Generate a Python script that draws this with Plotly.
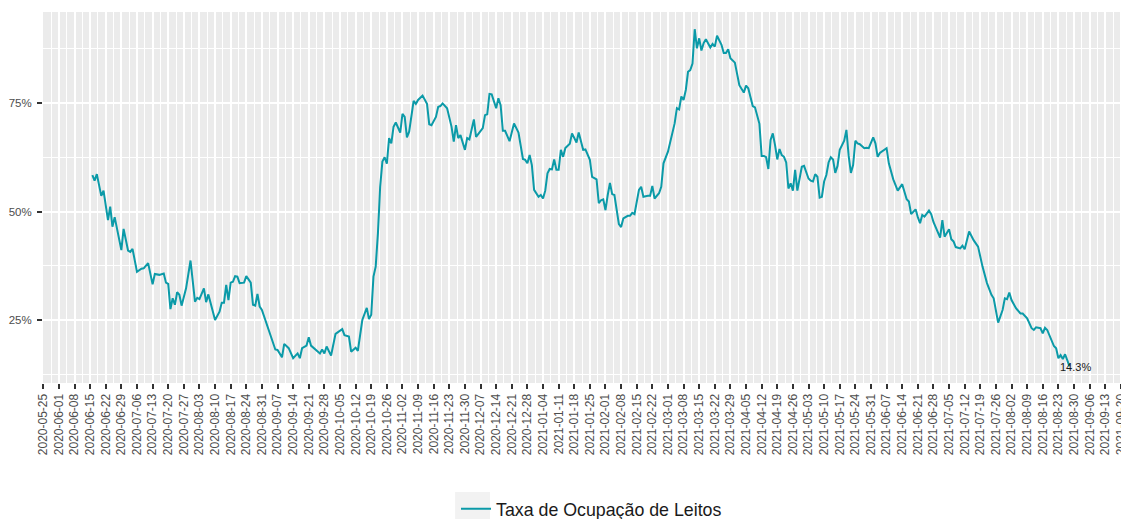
import pandas as pd
import plotly.graph_objects as go

# ---------------- data ----------------
dates = [
    "2020-06-16", "2020-06-17", "2020-06-18", "2020-06-20", "2020-06-21", "2020-06-23", "2020-06-24",
    "2020-06-25", "2020-06-26", "2020-06-29", "2020-06-30", "2020-07-02", "2020-07-03", "2020-07-04",
    "2020-07-06", "2020-07-08", "2020-07-09", "2020-07-11", "2020-07-13", "2020-07-14", "2020-07-16",
    "2020-07-18", "2020-07-19", "2020-07-20", "2020-07-21", "2020-07-22", "2020-07-23", "2020-07-24",
    "2020-07-25", "2020-07-26", "2020-07-28", "2020-07-30", "2020-08-01", "2020-08-02", "2020-08-03",
    "2020-08-05", "2020-08-06", "2020-08-07", "2020-08-10", "2020-08-12", "2020-08-13", "2020-08-14",
    "2020-08-15", "2020-08-16", "2020-08-17", "2020-08-18", "2020-08-19", "2020-08-20", "2020-08-21",
    "2020-08-23", "2020-08-24", "2020-08-26", "2020-08-27", "2020-08-28", "2020-08-29", "2020-08-30",
    "2020-08-31", "2020-09-02", "2020-09-06", "2020-09-07", "2020-09-09", "2020-09-10", "2020-09-12",
    "2020-09-14", "2020-09-16", "2020-09-17", "2020-09-18", "2020-09-20", "2020-09-21", "2020-09-22",
    "2020-09-24", "2020-09-26", "2020-09-27", "2020-09-28", "2020-09-29", "2020-10-01", "2020-10-03",
    "2020-10-04", "2020-10-06", "2020-10-07", "2020-10-09", "2020-10-10", "2020-10-12", "2020-10-13",
    "2020-10-15", "2020-10-17", "2020-10-18", "2020-10-19", "2020-10-20", "2020-10-21", "2020-10-22",
    "2020-10-23", "2020-10-24", "2020-10-25", "2020-10-26", "2020-10-27", "2020-10-28", "2020-10-29",
    "2020-10-30", "2020-11-01", "2020-11-02", "2020-11-03", "2020-11-04", "2020-11-05", "2020-11-07",
    "2020-11-08", "2020-11-09", "2020-11-11", "2020-11-13", "2020-11-14", "2020-11-15", "2020-11-17",
    "2020-11-18", "2020-11-19", "2020-11-20", "2020-11-22", "2020-11-24", "2020-11-25", "2020-11-26",
    "2020-11-27", "2020-11-28", "2020-11-30", "2020-12-01", "2020-12-02", "2020-12-04", "2020-12-05",
    "2020-12-07", "2020-12-08", "2020-12-09", "2020-12-10", "2020-12-11", "2020-12-12", "2020-12-14",
    "2020-12-15", "2020-12-16", "2020-12-17", "2020-12-18", "2020-12-20", "2020-12-22", "2020-12-24",
    "2020-12-26", "2020-12-27", "2020-12-28", "2020-12-29", "2020-12-30", "2020-12-31", "2021-01-02",
    "2021-01-03", "2021-01-04", "2021-01-05", "2021-01-06", "2021-01-07", "2021-01-08", "2021-01-09",
    "2021-01-10", "2021-01-11", "2021-01-12", "2021-01-13", "2021-01-14", "2021-01-16", "2021-01-17",
    "2021-01-19", "2021-01-20", "2021-01-22", "2021-01-23", "2021-01-25", "2021-01-26", "2021-01-28",
    "2021-01-29", "2021-01-30", "2021-01-31", "2021-02-01", "2021-02-02", "2021-02-03", "2021-02-04",
    "2021-02-05", "2021-02-07", "2021-02-08", "2021-02-09", "2021-02-11", "2021-02-12", "2021-02-13",
    "2021-02-14", "2021-02-16", "2021-02-17", "2021-02-18", "2021-02-20", "2021-02-21", "2021-02-22",
    "2021-02-23", "2021-02-25", "2021-02-26", "2021-02-27", "2021-03-01", "2021-03-04", "2021-03-05",
    "2021-03-06", "2021-03-07", "2021-03-08", "2021-03-09", "2021-03-10", "2021-03-11", "2021-03-12",
    "2021-03-13", "2021-03-14", "2021-03-15", "2021-03-16", "2021-03-17", "2021-03-18", "2021-03-20",
    "2021-03-21", "2021-03-22", "2021-03-23", "2021-03-25", "2021-03-26", "2021-03-27", "2021-03-28",
    "2021-03-29", "2021-03-31", "2021-04-01", "2021-04-02", "2021-04-04", "2021-04-05", "2021-04-06",
    "2021-04-08", "2021-04-09", "2021-04-10", "2021-04-11", "2021-04-12", "2021-04-13", "2021-04-14",
    "2021-04-15", "2021-04-16", "2021-04-17", "2021-04-18", "2021-04-19", "2021-04-20", "2021-04-21",
    "2021-04-22", "2021-04-23", "2021-04-24", "2021-04-25", "2021-04-26", "2021-04-27", "2021-04-28",
    "2021-04-29", "2021-04-30", "2021-05-01", "2021-05-03", "2021-05-04", "2021-05-05", "2021-05-06",
    "2021-05-07", "2021-05-08", "2021-05-09", "2021-05-10", "2021-05-11", "2021-05-12", "2021-05-13",
    "2021-05-14", "2021-05-15", "2021-05-16", "2021-05-17", "2021-05-19", "2021-05-20", "2021-05-21",
    "2021-05-22", "2021-05-23", "2021-05-24", "2021-05-25", "2021-05-26", "2021-05-28", "2021-05-29",
    "2021-05-30", "2021-06-01", "2021-06-02", "2021-06-03", "2021-06-04", "2021-06-06", "2021-06-07",
    "2021-06-08", "2021-06-10", "2021-06-12", "2021-06-14", "2021-06-16", "2021-06-17", "2021-06-18",
    "2021-06-20", "2021-06-21", "2021-06-22", "2021-06-23", "2021-06-24", "2021-06-26", "2021-06-27",
    "2021-06-28", "2021-06-29", "2021-07-01", "2021-07-02", "2021-07-03", "2021-07-05", "2021-07-06",
    "2021-07-07", "2021-07-08", "2021-07-10", "2021-07-11", "2021-07-12", "2021-07-14", "2021-07-16",
    "2021-07-17", "2021-07-18", "2021-07-20", "2021-07-21", "2021-07-22", "2021-07-24", "2021-07-25",
    "2021-07-27", "2021-07-29", "2021-07-30", "2021-07-31", "2021-08-01", "2021-08-02", "2021-08-04",
    "2021-08-06", "2021-08-07", "2021-08-09", "2021-08-11", "2021-08-12", "2021-08-13", "2021-08-15",
    "2021-08-16", "2021-08-17", "2021-08-18", "2021-08-20", "2021-08-21", "2021-08-22", "2021-08-23",
    "2021-08-24", "2021-08-25", "2021-08-26", "2021-08-27", "2021-08-28",
]

occupancy = [
    58.4, 57.1, 58.6, 53.6, 54.8, 48.0, 51.1,
    46.5, 48.7, 41.1, 46.0, 41.0, 40.7, 41.4,
    36.1, 36.8, 36.9, 38.1, 33.2, 35.6, 35.4,
    35.7, 33.6, 33.3, 27.5, 30.0, 28.5, 31.4,
    30.8, 28.3, 32.3, 38.7, 29.2, 30.1, 29.8,
    32.3, 29.1, 30.9, 25.0, 26.9, 29.0, 29.0,
    33.1, 29.6, 33.6, 33.8, 35.1, 35.0, 33.5,
    33.6, 35.1, 33.6, 28.5, 28.3, 31.0, 28.1,
    27.3, 24.2, 18.2, 18.1, 16.4, 19.5, 18.5,
    16.2, 17.3, 16.2, 18.5, 19.1, 21.0, 19.1,
    18.2, 17.3, 18.2, 17.3, 18.9, 16.8, 21.8,
    22.2, 22.9, 21.5, 21.2, 17.7, 18.6, 17.9,
    25.0, 27.8, 25.2, 26.2, 35.0, 37.3, 45.0,
    55.7, 61.5, 62.5, 61.0, 66.9, 65.7, 69.5,
    70.5, 68.2, 72.5, 71.8, 67.1, 68.4, 75.5,
    74.8, 75.7, 76.7, 74.8, 70.1, 69.9, 71.8,
    74.1, 74.3, 74.9, 73.8, 69.5, 66.1, 69.9,
    66.9, 67.6, 64.2, 66.9, 66.6, 71.2, 67.2,
    68.5, 69.2, 72.2, 72.4, 77.1, 77.0, 73.8,
    76.1, 74.5, 68.6, 68.6, 66.2, 70.3, 68.2,
    62.1, 61.9, 61.1, 63.0, 60.7, 55.0, 53.4,
    53.8, 53.0, 54.8, 58.8, 59.8, 59.7, 62.0,
    59.6, 59.6, 64.2, 62.6, 64.6, 65.6, 68.0,
    65.9, 68.2, 64.2, 64.3, 61.9, 58.0, 57.4,
    51.9, 52.6, 52.8, 50.3, 53.8, 56.6, 54.0,
    53.8, 47.1, 46.4, 48.4, 49.0, 49.0, 49.7,
    49.4, 55.0, 55.7, 53.4, 53.6, 53.6, 55.9,
    53.0, 54.2, 55.7, 61.1, 63.8, 70.3, 73.8,
    73.5, 76.5, 75.7, 78.0, 82.2, 82.6, 84.1,
    92.0, 87.6, 89.9, 87.1, 88.8, 89.7, 87.8,
    88.6, 88.0, 90.5, 88.4, 86.5, 86.5, 87.4,
    85.3, 84.3, 81.8, 79.1, 77.4, 79.0, 78.4,
    74.3, 74.0, 71.8, 70.2, 62.8, 62.8, 62.5,
    59.8, 66.5, 68.0, 65.3, 62.0, 64.4, 63.0,
    62.6, 61.3, 55.3, 56.5, 54.8, 59.6, 54.8,
    58.0, 60.3, 60.5, 57.6, 57.1, 56.9, 58.6,
    58.0, 53.2, 53.4, 56.9, 58.4, 61.3, 62.5,
    62.0, 58.9, 60.5, 64.2, 66.3, 68.8, 62.8,
    58.9, 60.7, 66.3, 65.7, 65.5, 64.6, 64.7,
    64.6, 67.1, 65.7, 62.6, 63.5, 64.3, 64.6,
    61.1, 57.4, 54.8, 56.3, 52.8, 52.3, 49.4,
    50.5, 48.7, 47.3, 49.2, 48.8, 50.2, 49.4,
    47.6, 46.4, 44.0, 48.0, 44.2, 45.9, 43.6,
    43.1, 41.8, 41.5, 42.1, 41.3, 45.4, 43.4,
    42.7, 41.9, 37.3, 35.4, 33.5, 30.8, 30.0,
    24.4, 27.3, 30.0, 29.8, 31.3, 29.6, 27.7,
    26.5, 26.5, 25.4, 23.1, 22.7, 23.3, 23.1,
    21.9, 23.2, 22.7, 20.4, 19.0, 18.5, 16.2,
    16.9, 16.0, 17.1, 15.8, 14.3,
]

series_name = "Taxa de Ocupação de Leitos"
last_label = "14.3%"
y_tick_values = [25, 50, 75]
y_tick_labels = ["25%", "50%", "75%"]
x_tick_dates = pd.date_range("2020-05-25", "2021-09-20", freq="7D")
x_tick_labels = [d.strftime("%Y-%m-%d") for d in x_tick_dates]

# ---------------- styling ----------------
LINE_COLOR = "#0B9AA8"
PANEL = "#EBEBEB"
TICK_TXT = "#4D4D4D"
FONT = "Liberation Sans, Arial, sans-serif"

x_minor = [d + pd.Timedelta(hours=84) for d in x_tick_dates[:-1]]
y_minor = [12.5, 37.5, 62.5, 87.5]

x_start = pd.Timestamp("2020-05-25") - pd.Timedelta(hours=3)
x_end = pd.Timestamp("2021-09-21") + pd.Timedelta(hours=10)

fig = go.Figure()
fig.add_trace(go.Scatter(
    x=pd.to_datetime(dates), y=occupancy, mode="lines", name=series_name,
    line=dict(color=LINE_COLOR, width=2), showlegend=True,
))

fig.add_annotation(
    x=pd.Timestamp(dates[-1]), y=occupancy[-1], text=last_label, showarrow=False,
    xshift=6, yshift=-1, font=dict(family=FONT, size=11, color="#1A1A1A"),
)

# grey legend key background (ggplot-style)
fig.add_shape(type="rect", xref="paper", yref="paper",
              x0=0.3812, x1=0.4135, y0=-0.2938, y1=-0.42,
              fillcolor="#F2F2F2", line=dict(width=0), layer="below")

# the page body has an 8px margin, so the figure is 8px smaller and the
# left/top margins are 8px narrower to keep the panel where it belongs
fig.update_layout(
    width=1121, height=511,
    margin=dict(l=35, r=5, t=4, b=136, autoexpand=False),
    paper_bgcolor="white", plot_bgcolor=PANEL,
    font=dict(family=FONT, color=TICK_TXT),
    legend=dict(orientation="h", x=0.5074, xanchor="center", y=-0.34, yanchor="middle",
                font=dict(family=FONT, size=17.8, color="#1A1A1A"),
                bgcolor="rgba(0,0,0,0)", itemwidth=30),
    xaxis=dict(
        type="date", range=[x_start, x_end], automargin=False,
        tickmode="array", tickvals=list(x_tick_dates), ticktext=x_tick_labels,
        tickangle=-90, ticks="outside", ticklen=5, tickwidth=1.5, tickcolor="#333333",
        tickfont=dict(family=FONT, size=12, color=TICK_TXT),
        showgrid=True, gridcolor="white", gridwidth=1.6,
        minor=dict(tickmode="array", tickvals=x_minor, showgrid=True, gridcolor="white",
                   gridwidth=0.8, ticks=""),
        zeroline=False, showline=False,
    ),
    yaxis=dict(
        range=[10.48, 95.97], automargin=False,
        tickmode="array", tickvals=y_tick_values, ticktext=y_tick_labels,
        ticks="outside", ticklen=5, tickwidth=1.5, tickcolor="#333333",
        tickfont=dict(family=FONT, size=11.5, color=TICK_TXT),
        ticklabelstandoff=3,
        showgrid=True, gridcolor="white", gridwidth=1.6,
        minor=dict(tickmode="array", tickvals=y_minor, showgrid=True, gridcolor="white",
                   gridwidth=0.8, ticks=""),
        zeroline=False, showline=False,
    ),
)

fig.write_html("out.html")
